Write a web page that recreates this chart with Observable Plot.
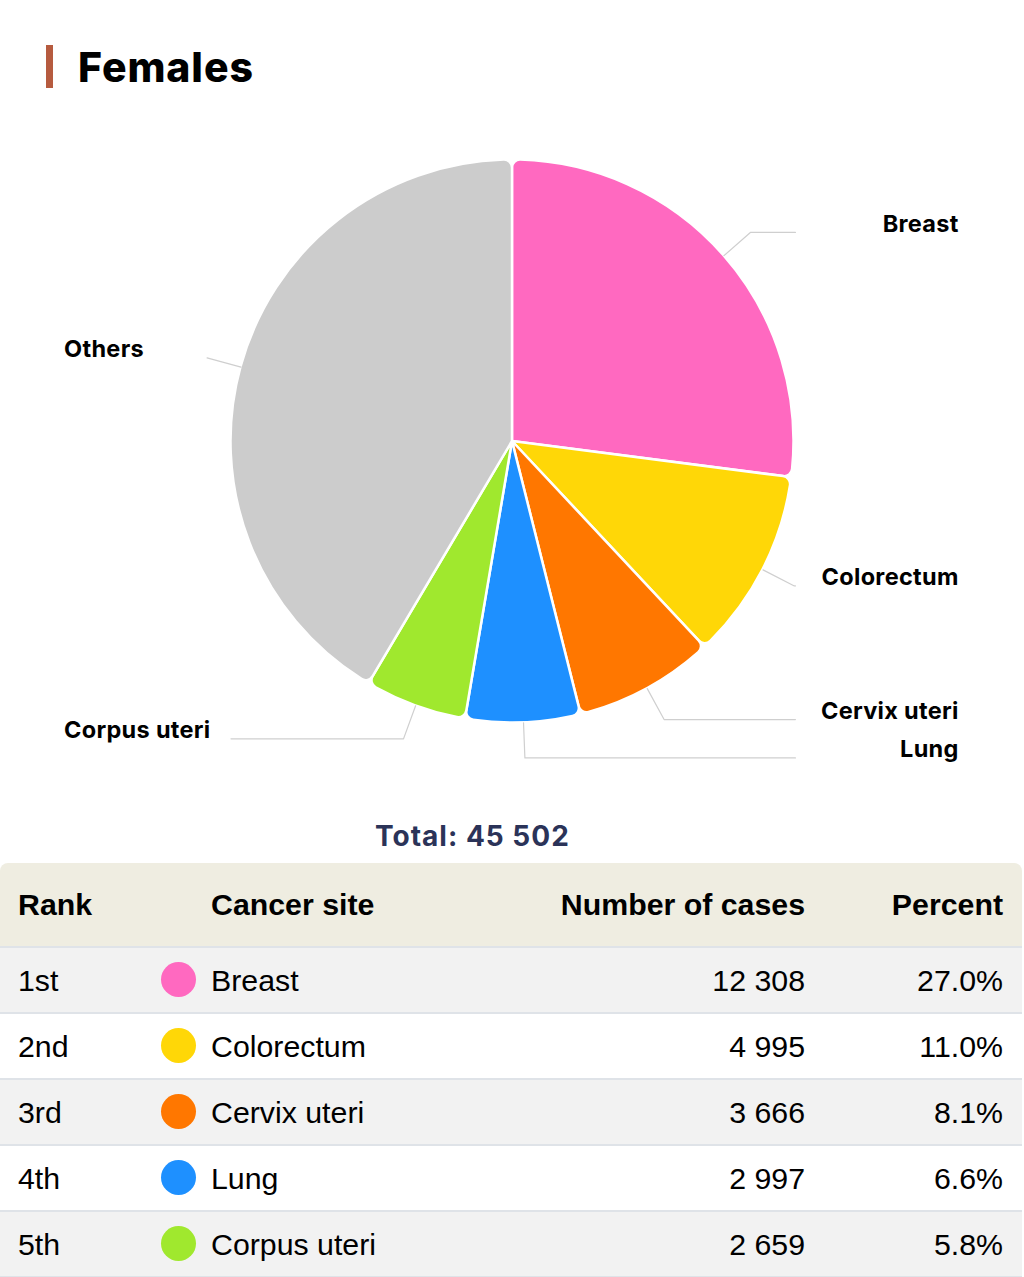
<!DOCTYPE html>
<html>
<head>
<meta charset="utf-8">
<script src="https://cdn.jsdelivr.net/npm/d3@7"></script>
<script src="https://cdn.jsdelivr.net/npm/@observablehq/plot@0.6"></script>
<style>
  body { margin: 0; background: #fff; width: 1024px; font-family: Inter, "Noto Sans", sans-serif; }
  #title { position: relative; height: 110px; }
  #title .bar { position: absolute; left: 46px; top: 45px; width: 7px; height: 43px; background: #b65b3f; }
  #title .t { position: absolute; left: 78px; top: 47px; font-size: 41px; line-height: 1; font-weight: 800; color: #000; letter-spacing: 0.9px; }
  #chart { height: 700px; }
  #total { position: relative; height: 53px; }
  #total span { position: absolute; left: 375px; top: 0; line-height: 53px; font-size: 28px; font-weight: 700; color: #2b3358; letter-spacing: 1px; }
  #table { width: 1022px; font-family: "Liberation Sans", Arial, sans-serif; font-size: 30.3px; color: #000; }
  .row { position: relative; height: 64px; border-bottom: 2px solid #dfe3e8; }
  .row.head { height: 83px; background: #efede1; border-radius: 8px 8px 0 0; font-weight: 700; }
  .row.odd { background: #f2f2f2; }
  .row.even { background: #fff; }
  .row span { position: absolute; top: 0; white-space: nowrap; }
  .row.head span { line-height: 83px; }
  .row:not(.head) span { line-height: 66px; }
  .c-rank { left: 18px; }
  .c-site { left: 211px; }
  .c-num { right: 217px; }
  .c-pct { right: 19px; }
  .dot { position: absolute; left: 161px; top: 14px; width: 35px; height: 35px; border-radius: 50%; }
</style>
</head>
<body>
<div id="title"><div class="bar"></div><div class="t">Females</div></div>
<div id="chart"></div>
<div id="total"></div>
<div id="table"></div>
<script>
// ---- data ----
const sites = ["Breast", "Colorectum", "Cervix uteri", "Lung", "Corpus uteri", "Others"];
const cases = [12308, 4995, 3666, 2997, 2659, 18877];
const colors = ["#ff69c0", "#ffd707", "#ff7700", "#1e90ff", "#a0e82e", "#cccccc"];
const total = 45502;
const ranks = ["1st", "2nd", "3rd", "4th", "5th"];
const percents = [27.0, 11.0, 8.1, 6.6, 5.8];

// ---- layout constants ----
const W = 1024, H = 700, R = 281.5, CX = 512, CY = 331;
const breakR = 1.125, labelX = 1.585;

const rows = sites.map((s, i) => ({site: s, cases: cases[i]}));
const arcs = d3.pie().sort(null).value(d => d.cases)(rows);
const slices = arcs.map(a => {
  const mid = (a.startAngle + a.endAngle) / 2;
  return {site: a.data.site, a0: a.startAngle, a1: a.endAngle, mid,
          right: Math.sin(mid) > 0};
});

// connector polylines (in units of the radius, y up)
const conn = [];
for (const s of slices) {
  const sx = Math.sin(s.mid), cy = Math.cos(s.mid);
  conn.push({site: s.site, x: sx, y: cy});
  conn.push({site: s.site, x: breakR * sx, y: breakR * cy});
  const endX = s.right ? 1.005 : -1.0;
  if (Math.abs(breakR * sx) < Math.abs(endX)) conn.push({site: s.site, x: endX, y: breakR * cy});
}

const labelOpts = {
  y: d => breakR * Math.cos(d.mid), text: "site", dy: -8,
  fontSize: 23.5, fontWeight: 700, fill: "#000"
};

const chart = Plot.plot({
  width: W, height: H,
  marginTop: 0, marginRight: 0, marginBottom: 0, marginLeft: 0,
  style: {fontFamily: "Inter, 'Noto Sans', sans-serif", background: "transparent", overflow: "visible", letterSpacing: "0.3px"},
  x: {domain: [-CX / R, (W - CX) / R], axis: null},
  y: {domain: [-(H - CY) / R, CY / R], axis: null},
  color: {domain: sites, range: colors},
  marks: [
    Plot.dot(slices, {
      x: () => 0, y: () => 0, fill: "site",
      render(index, scales, values) {
        const cx = scales.x(0), cy = scales.y(0), r = scales.x(1) - cx;
        const arc = d3.arc().innerRadius(0).outerRadius(r).cornerRadius(8);
        const g = d3.create("svg:g").attr("transform", `translate(${cx},${cy})`);
        for (const i of index) {
          const s = slices[i];
          g.append("path")
            .attr("d", arc({startAngle: s.a0, endAngle: s.a1}))
            .attr("fill", values.fill ? values.fill[i] : scales.color(s.site))
            .attr("stroke", "#fff").attr("stroke-width", 2.5)
            .attr("stroke-linejoin", "round");
        }
        return g.node();
      }
    }),
    Plot.line(conn, {x: "x", y: "y", z: "site", stroke: "#cfcfcf", strokeWidth: 1.2}),
    Plot.text(slices.filter(d => d.right), {...labelOpts, x: () => labelX, textAnchor: "end"}),
    Plot.text(slices.filter(d => !d.right), {...labelOpts, x: () => -labelX - 0.008, textAnchor: "start"})
  ]
});
document.getElementById("chart").appendChild(chart);

// ---- total + table ----
const fmt = d3.formatLocale({decimal: ".", thousands: "\u00a0", grouping: [3], currency: ["", ""]}).format(",");
document.getElementById("total").innerHTML = `<span>Total: ${fmt(total)}</span>`;

const table = document.getElementById("table");
let html = `<div class="row head"><span class="c-rank">Rank</span><span class="c-site">Cancer site</span><span class="c-num">Number of cases</span><span class="c-pct">Percent</span></div>`;
ranks.forEach((rk, i) => {
  html += `<div class="row ${i % 2 === 0 ? "odd" : "even"}">
    <span class="c-rank">${rk}</span>
    <div class="dot" style="background:${colors[i]}"></div>
    <span class="c-site">${sites[i]}</span>
    <span class="c-num">${fmt(cases[i])}</span>
    <span class="c-pct">${percents[i].toFixed(1)}%</span>
  </div>`;
});
table.innerHTML = html;
</script>
</body>
</html>
